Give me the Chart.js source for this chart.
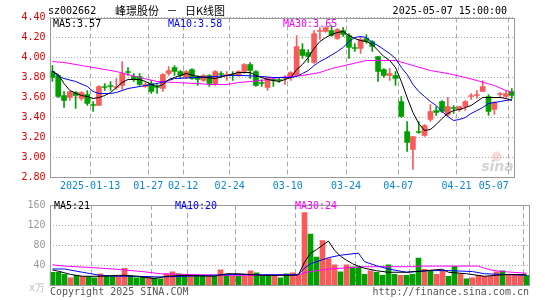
<!DOCTYPE html>
<html>
<head>
<meta charset="utf-8">
<script src="https://cdn.jsdelivr.net/npm/chart.js@4.4.1/dist/chart.umd.min.js"></script>
<style>
body { margin: 0; background: #fff; }
#wrap { position: relative; width: 545px; height: 300px; overflow: hidden; font: 10px 'DejaVu Sans Mono', monospace; }
canvas { position: absolute; left: 0; }
.t { position: absolute; white-space: pre; line-height: 12px; height: 12px; }
</style>
</head>
<body>
<div id="wrap">
  <canvas id="kline" width="545" height="200" style="top:0"></canvas>
  <canvas id="vol" width="545" height="105" style="top:195px"></canvas>

  <div class="t" style="left:48px;top:5px;color:#000">sz002662</div>
  <div class="t" style="left:115px;top:2px;height:15px;line-height:15px;font:11px 'Noto Sans CJK SC',sans-serif;word-spacing:5px;color:#000">峰璟股份 － 日K线图</div>
  <div class="t" style="right:38px;top:5px;color:#000">2025-05-07 15:00:00</div>

  <div class="t" style="left:53px;top:18px;color:#000">MA5:3.57</div>
  <div class="t" style="left:168px;top:18px;color:#0000ff">MA10:3.58</div>
  <div class="t" style="left:283px;top:18px;color:#ff00ff">MA30:3.65</div>

  <div class="t" style="left:54px;top:200px;color:#000">MA5:21</div>
  <div class="t" style="left:175px;top:200px;color:#0000ff">MA10:20</div>
  <div class="t" style="left:295px;top:200px;color:#ff00ff">MA30:24</div>

  <div class="t" style="left:29px;top:282px;color:#bbb">x万</div>
  <div class="t" style="left:50px;top:286px;color:#555">Copyright 2025 SINA.COM</div>
  <div class="t" style="right:16px;top:286px;color:#555">http://finance.sina.com.cn</div>
</div>

<script>
// trading days shown on the chart
const dates = [
  '2025-01-02','2025-01-03','2025-01-06','2025-01-07','2025-01-08','2025-01-09','2025-01-10','2025-01-13','2025-01-14','2025-01-15',
  '2025-01-16','2025-01-17','2025-01-20','2025-01-21','2025-01-22','2025-01-23','2025-01-24','2025-01-27','2025-02-05','2025-02-06',
  '2025-02-07','2025-02-10','2025-02-11','2025-02-12','2025-02-13','2025-02-14','2025-02-17','2025-02-18','2025-02-19','2025-02-20',
  '2025-02-21','2025-02-24','2025-02-25','2025-02-26','2025-02-27','2025-02-28','2025-03-03','2025-03-04','2025-03-05','2025-03-06',
  '2025-03-07','2025-03-10','2025-03-11','2025-03-12','2025-03-13','2025-03-14','2025-03-17','2025-03-18','2025-03-19','2025-03-20',
  '2025-03-21','2025-03-24','2025-03-25','2025-03-26','2025-03-27','2025-03-28','2025-03-31','2025-04-01','2025-04-02','2025-04-03',
  '2025-04-07','2025-04-08','2025-04-09','2025-04-10','2025-04-11','2025-04-14','2025-04-15','2025-04-16','2025-04-17','2025-04-18',
  '2025-04-21','2025-04-22','2025-04-23','2025-04-24','2025-04-25','2025-04-28','2025-04-29','2025-04-30','2025-05-06','2025-05-07'
];

const open = [
  3.86,3.82,3.62,3.60,3.65,3.59,3.63,3.53,3.52,3.71,
  3.72,3.70,3.72,3.86,3.81,3.81,3.71,3.74,3.71,3.69,
  3.84,3.90,3.86,3.80,3.88,3.81,3.77,3.82,3.73,3.84,
  3.82,3.83,3.82,3.86,3.93,3.86,3.75,3.70,3.78,3.78,
  3.79,3.80,3.82,4.08,4.05,3.95,4.26,4.26,4.27,4.19,
  4.27,4.22,4.10,4.09,4.19,4.16,4.01,3.88,3.82,3.82,
  3.56,3.26,3.08,3.26,3.22,3.38,3.47,3.56,3.43,3.50,
  3.48,3.51,3.61,3.62,3.66,3.61,3.48,3.63,3.61,3.66
];
const high = [
  3.92,3.83,3.66,3.66,3.66,3.66,3.67,3.56,3.72,3.74,
  3.76,3.79,3.96,3.90,3.84,3.84,3.75,3.77,3.73,3.84,
  3.91,3.92,3.87,3.87,3.89,3.82,3.83,3.83,3.87,3.86,
  3.86,3.86,3.87,3.94,3.95,3.87,3.78,3.80,3.79,3.80,
  3.82,3.86,4.22,4.14,4.08,4.27,4.30,4.31,4.32,4.29,
  4.30,4.24,4.14,4.21,4.23,4.17,4.01,3.89,3.89,3.86,
  3.61,3.36,3.21,3.36,3.33,3.53,3.51,3.57,3.60,3.52,
  3.51,3.57,3.64,3.67,3.77,3.63,3.56,3.65,3.67,3.69
];
const low = [
  3.76,3.60,3.50,3.57,3.49,3.57,3.52,3.46,3.52,3.67,
  3.67,3.68,3.68,3.82,3.76,3.72,3.70,3.64,3.64,3.66,
  3.82,3.82,3.79,3.79,3.78,3.72,3.76,3.71,3.72,3.80,
  3.77,3.77,3.81,3.84,3.79,3.71,3.71,3.67,3.71,3.75,
  3.73,3.77,3.82,3.99,3.95,3.94,4.18,4.25,4.21,4.18,
  4.21,3.99,4.06,4.04,4.14,4.06,3.76,3.80,3.77,3.72,
  3.40,3.06,2.88,3.24,3.21,3.36,3.42,3.45,3.41,3.44,
  3.46,3.47,3.58,3.59,3.66,3.42,3.43,3.60,3.60,3.59
];
const close = [
  3.80,3.61,3.57,3.66,3.62,3.65,3.54,3.52,3.71,3.70,
  3.71,3.71,3.84,3.85,3.78,3.73,3.73,3.66,3.70,3.83,
  3.87,3.86,3.82,3.86,3.79,3.78,3.82,3.74,3.86,3.83,
  3.83,3.82,3.86,3.93,3.87,3.72,3.74,3.80,3.77,3.77,
  3.80,3.85,4.11,4.02,4.01,4.24,4.27,4.30,4.22,4.28,
  4.23,4.10,4.09,4.18,4.16,4.11,3.86,3.82,3.84,3.79,
  3.41,3.15,3.21,3.25,3.32,3.46,3.45,3.46,3.51,3.49,
  3.51,3.56,3.62,3.63,3.71,3.46,3.55,3.64,3.64,3.62
];
// volume, in 万手
const volume = [
  26,26,22,15,20,18,17,15,23,18,
  18,18,34,19,15,18,17,15,13,23,
  27,23,22,19,18,18,18,18,31,20,
  18,18,18,29,25,18,18,18,15,23,
  25,22,145,102,56,89,53,41,27,41,
  37,37,22,29,26,20,41,22,20,20,
  22,54,32,29,22,29,18,38,23,13,
  15,20,18,18,27,29,22,20,20,20
];

// moving averages: [day index, value]
const ma5Pts = [[0,3.86],[1,3.83],[2,3.74],[3,3.67],[5,3.62],[6,3.61],[7,3.59],[8,3.60],[9,3.62],[10,3.65],[11,3.70],[12,3.75],[13,3.78],[15,3.78],[16,3.76],[17,3.73],[18,3.71],[19,3.73],[20,3.78],[21,3.80],[23,3.84],[25,3.81],[28,3.79],[30,3.82],[32,3.85],[34,3.85],[35,3.82],[37,3.78],[39,3.76],[40,3.78],[41,3.80],[42,3.88],[43,3.93],[44,4.00],[45,4.09],[46,4.16],[47,4.20],[48,4.23],[49,4.25],[50,4.26],[51,4.22],[52,4.19],[53,4.17],[54,4.16],[55,4.13],[56,4.07],[57,4.01],[58,3.97],[59,3.90],[60,3.76],[61,3.60],[62,3.45],[63,3.34],[64,3.27],[65,3.28],[66,3.33],[67,3.39],[68,3.44],[69,3.47],[70,3.48],[71,3.50],[72,3.52],[73,3.56],[74,3.60],[75,3.60],[77,3.60],[78,3.59],[79,3.57]];
const ma10Pts = [[0,3.87],[1,3.81],[2,3.79],[4,3.76],[6,3.71],[7,3.66],[8,3.64],[10,3.64],[11,3.65],[13,3.69],[16,3.72],[18,3.74],[20,3.77],[21,3.79],[25,3.80],[28,3.81],[30,3.82],[33,3.82],[36,3.81],[38,3.80],[40,3.80],[41,3.80],[42,3.81],[43,3.84],[44,3.87],[45,3.92],[46,3.96],[47,3.99],[49,4.06],[50,4.10],[51,4.16],[52,4.20],[53,4.21],[54,4.20],[55,4.15],[56,4.12],[57,4.08],[58,4.04],[59,3.99],[60,3.90],[61,3.83],[62,3.73],[63,3.66],[64,3.61],[65,3.56],[66,3.52],[67,3.46],[68,3.41],[69,3.37],[70,3.38],[71,3.40],[72,3.44],[73,3.47],[74,3.50],[75,3.54],[77,3.56],[79,3.58]];
const ma30Pts = [[0,3.96],[2,3.95],[5,3.92],[8,3.89],[11,3.86],[15,3.80],[18,3.76],[21,3.75],[25,3.74],[27,3.73],[30,3.73],[32,3.75],[36,3.77],[39,3.80],[41,3.81],[43,3.82],[46,3.85],[48,3.89],[51,3.93],[54,3.97],[57,3.97],[59,3.97],[62,3.92],[65,3.87],[68,3.84],[71,3.80],[73,3.77],[76,3.72],[78,3.67],[79,3.65]];

const volMa5Pts = [[0,30.6],[1,28],[3,21.7],[5,18],[8,18],[11,19.8],[12,20],[14,18],[17,13.4],[19,18],[22,19.8],[27,18],[29,23],[31,23],[35,19.8],[40,19.8],[41,21],[42,46],[43,64],[44,71],[45,80],[46,88],[47,70],[48,58],[49,50],[50,43],[51,38],[52,34],[54,29],[56,26],[59,26],[62,29],[65,32],[66,26],[69,23],[72,18],[74,20],[76,21.7],[79,21]];
const volMa10Pts = [[0,32.5],[2,32.5],[5,26],[8,19.8],[11,18],[14,18],[18,16.6],[22,18],[26,19.8],[30,21.7],[35,21],[40,21],[41,22],[42,34],[43,43],[46,55],[48,60],[51,64],[52,47],[54,39],[56,32.5],[59,26],[63,29.3],[66,29.3],[70,27.4],[72,23],[75,21.7],[79,20]];
const volMa30Pts = [[0,40.8],[2,38.3],[6,35.7],[10,32.5],[15,27.4],[18,23],[22,21.7],[30,19.8],[41,20.5],[42,25.5],[46,32.5],[52,37],[60,37],[61,38.3],[71,38.3],[72,34],[73,30.6],[75,27.4],[79,24]];

// axes
const xTickDates = ['2025-01-13','2025-01-27','2025-02-12','2025-02-24','2025-03-10','2025-03-24','2025-04-07','2025-04-21','2025-05-07'];
const priceMin = 2.8, priceMax = 4.4, priceStep = 0.2;
const volMin = 0, volMax = 160, volStep = 40;

const RED = '#fa5a5a';
const GREEN = '#00a000';
const GRID = '#aaa';
const FONT = { family: "'DejaVu Sans Mono', monospace", size: 10 };

const upDown = dates.map((d, i) => close[i] >= open[i] ? RED : GREEN);
const pts = arr => arr.map(([i, v]) => ({ x: dates[i], y: v }));

const framePlugin = {
  id: 'frame',
  afterDatasetsDraw(chart) {
    const { ctx, chartArea: a } = chart;
    const x0 = Math.round(a.left) + 0.5, y0 = Math.round(a.top) + 0.5;
    const x1 = Math.floor(a.right) + 0.5, y1 = Math.floor(a.bottom) + 0.5;
    ctx.save();
    ctx.strokeStyle = '#999';
    ctx.lineWidth = 1;
    ctx.strokeRect(x0, y0, x1 - x0, y1 - y0);
    ctx.restore();
  }
};

const watermarkPlugin = {
  id: 'watermark',
  beforeDatasetsDraw(chart) {
    const { ctx, chartArea: a } = chart;
    ctx.save();
    ctx.fillStyle = 'rgba(235,130,130,0.3)';
    ctx.beginPath();
    ctx.arc(a.right - 18, a.bottom - 21, 5, 0, Math.PI * 2);
    ctx.fill();
    ctx.font = "italic bold 14px 'DejaVu Sans', sans-serif";
    ctx.fillStyle = 'rgba(160,160,160,0.45)';
    ctx.textAlign = 'right';
    ctx.textBaseline = 'alphabetic';
    ctx.fillText('sina', a.right - 1, a.bottom - 7);
    ctx.restore();
  }
};

function xScale(showLabels, height) {
  return {
    type: 'category',
    offset: true,
    grid: {
      offset: true,
      drawTicks: false,
      color: c => xTickDates.includes(dates[c.index]) ? GRID : 'transparent'
    },
    border: { display: false, dash: [5, 3] },
    ticks: {
      display: showLabels,
      autoSkip: false,
      maxRotation: 0,
      minRotation: 0,
      padding: 3,
      labelOffset: -3,
      color: '#0b86d8',
      font: FONT,
      callback: v => {
        const k = xTickDates.indexOf(dates[v]);
        if (k < 0) return '';
        if (k === 0) return dates[v];
        // the last label is pulled left so it stays inside the frame
        return k === xTickDates.length - 1 ? dates[v].slice(5) + '     ' : dates[v].slice(5);
      }
    },
    afterFit: s => { s.height = height; }
  };
}

function maLine(data, color) {
  return {
    type: 'line', data, borderColor: color, borderWidth: 1,
    pointRadius: 0, tension: 0, spanGaps: true, order: 1
  };
}

new Chart(document.getElementById('kline'), {
  type: 'bar',
  data: {
    labels: dates,
    datasets: [
      maLine(pts(ma5Pts), '#000000'),
      maLine(pts(ma10Pts), '#0000ff'),
      maLine(pts(ma30Pts), '#ff00ff'),
      {
        data: dates.map((d, i) => [open[i], close[i]]),
        backgroundColor: upDown, barThickness: 5, minBarLength: 1,
        grouped: false, order: 2
      },
      {
        data: dates.map((d, i) => [low[i], high[i]]),
        backgroundColor: upDown, barThickness: 1,
        grouped: false, order: 3
      }
    ]
  },
  options: {
    responsive: false,
    animation: false,
    layout: { padding: { left: 0, right: 15.5, top: 17.5, bottom: 0 } },
    plugins: { legend: { display: false }, tooltip: { enabled: false } },
    scales: {
      x: xScale(true, 22.5),
      y: {
        min: priceMin, max: priceMax,
        grid: { color: GRID, drawTicks: false },
        border: { display: false, dash: [1, 2] },
        ticks: {
          stepSize: priceStep, padding: 4, color: '#e00000', font: FONT,
          callback: v => Number(v).toFixed(2)
        },
        afterFit: s => { s.width = 49.5; }
      }
    }
  },
  plugins: [watermarkPlugin, framePlugin]
});

new Chart(document.getElementById('vol'), {
  type: 'bar',
  data: {
    labels: dates,
    datasets: [
      maLine(pts(volMa5Pts), '#000000'),
      maLine(pts(volMa10Pts), '#0000ff'),
      maLine(pts(volMa30Pts), '#ff00ff'),
      {
        data: volume, backgroundColor: upDown, barThickness: 5,
        grouped: false, order: 2
      }
    ]
  },
  options: {
    responsive: false,
    animation: false,
    layout: { padding: { left: 0, right: 15.5, top: 6.7, bottom: 0 } },
    plugins: { legend: { display: false }, tooltip: { enabled: false } },
    scales: {
      x: xScale(false, 14.7),
      y: {
        min: volMin, max: volMax,
        grid: { color: GRID, drawTicks: false },
        border: { display: false, dash: [1, 2] },
        ticks: {
          stepSize: volStep, padding: 4, color: '#999', font: FONT,
          callback: v => v === 0 ? '' : v
        },
        afterFit: s => { s.width = 49.5; }
      }
    }
  },
  plugins: [framePlugin]
});
</script>
</body>
</html>
